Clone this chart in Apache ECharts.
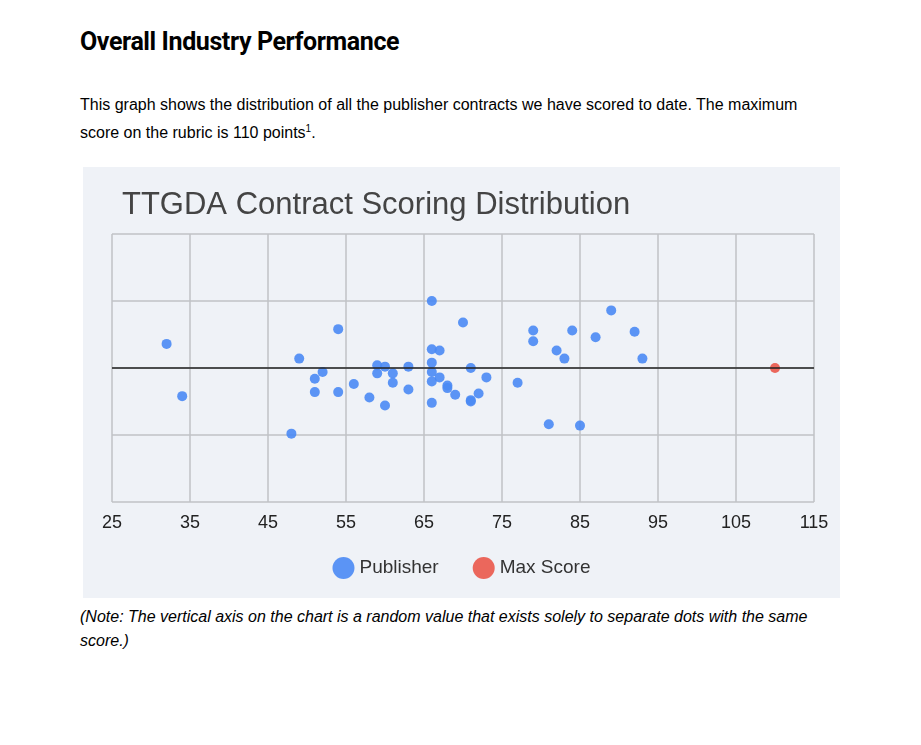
<!DOCTYPE html>
<html>
<head>
<meta charset="utf-8">
<script src="https://cdn.jsdelivr.net/npm/echarts@6/dist/echarts.min.js"></script>
<style>
body { margin: 0; background: #fff; font-family: Roboto, Arial, sans-serif; }
h1 { position: absolute; left: 80px; top: 27px; margin: 0; font-size: 25px; font-weight: bold; color: #000; letter-spacing: -0.4px; }
.p { position: absolute; left: 80px; top: 93px; width: 745px; font-family: Arial, "Liberation Sans", sans-serif; font-size: 16px; line-height: 24px; color: #000; }
.note { position: absolute; left: 80px; top: 605px; width: 760px; font-family: Arial, "Liberation Sans", sans-serif; font-style: italic; font-size: 16px; line-height: 24px; }
#chart { position: absolute; left: 83px; top: 167px; width: 757px; height: 431px; }
</style>
</head>
<body>
<h1>Overall Industry Performance</h1>
<div class="p">This graph shows the distribution of all the publisher contracts we have scored to date. The maximum score on the rubric is 110 points<sup style="font-size:10px">1</sup>.</div>
<div id="chart"></div>
<div class="note">(Note: The vertical axis on the chart is a random value that exists solely to separate dots with the same score.)</div>
<script>
// scores and the random vertical offset
var publisherScore = [32, 34, 48, 49, 54, 52, 51, 51, 54, 56, 59, 59, 60, 61, 61, 60, 58, 63, 63, 66, 66, 67, 66, 66, 66, 67, 66, 70, 68, 68, 69, 71, 71, 71, 72, 73, 77, 79, 79, 81, 82, 83, 84, 85, 87, 89, 92, 93];
var publisherJitter = [0.18, -0.21, -0.49, 0.07, 0.29, -0.03, -0.08, -0.18, -0.18, -0.12, 0.02, -0.04, 0.01, -0.04, -0.11, -0.28, -0.22, 0.01, -0.16, 0.5, 0.14, 0.13, 0.04, -0.03, -0.1, -0.07, -0.26, 0.34, -0.13, -0.15, -0.2, 0, -0.24, -0.25, -0.19, -0.07, -0.11, 0.28, 0.2, -0.42, 0.13, 0.07, 0.28, -0.43, 0.23, 0.43, 0.27, 0.07];
var maxScore = [110];
var maxJitter = [0];

var myChart = echarts.init(document.getElementById('chart'));
var pubData = publisherScore.map(function(s, i) { return [s, publisherJitter[i]]; });
var maxData = maxScore.map(function(s, i) { return [s, maxJitter[i]]; });
var font = 'Arial, "Liberation Sans", sans-serif';

var option = {
    backgroundColor: '#eff2f7',
    animation: false,
    title: {
        text: 'TTGDA Contract Scoring Distribution',
        left: 34, top: 18,
        textStyle: { fontFamily: font, fontWeight: 'normal', fontSize: 31, color: '#444' }
    },
    grid: { left: 29, top: 67, width: 702, height: 268 },
    legend: {
        bottom: 14, left: 'center', itemWidth: 22, itemHeight: 22, itemGap: 34,
        icon: 'circle',
        textStyle: { fontFamily: font, fontSize: 19, color: '#333' },
        data: ['Publisher', 'Max Score']
    },
    xAxis: {
        type: 'value', min: 25, max: 115, interval: 10,
        axisLine: { show: false }, axisTick: { show: false },
        axisLabel: { fontFamily: font, fontSize: 18, color: '#222', margin: 12 },
        splitLine: { lineStyle: { color: '#c0c2c6', width: 1.5 } }
    },
    yAxis: {
        type: 'value', min: -1, max: 1, interval: 0.5,
        axisLine: { show: false }, axisTick: { show: false }, axisLabel: { show: false },
        splitLine: { lineStyle: { color: '#c0c2c6', width: 1.5 } }
    },
    series: [{
        name: 'Publisher',
        type: 'scatter',
        symbolSize: 10,
        itemStyle: { color: '#4a8af4', opacity: 0.9 },
        data: pubData,
        markLine: {
            silent: true, symbol: 'none', label: { show: false },
            lineStyle: { color: '#222', width: 1.5, type: 'solid' },
            data: [{ yAxis: 0 }]
        }
    }, {
        name: 'Max Score',
        type: 'scatter',
        symbolSize: 10,
        itemStyle: { color: '#ea4335' },
        data: maxData
    }]
};
myChart.setOption(option);
</script>
</body>
</html>
